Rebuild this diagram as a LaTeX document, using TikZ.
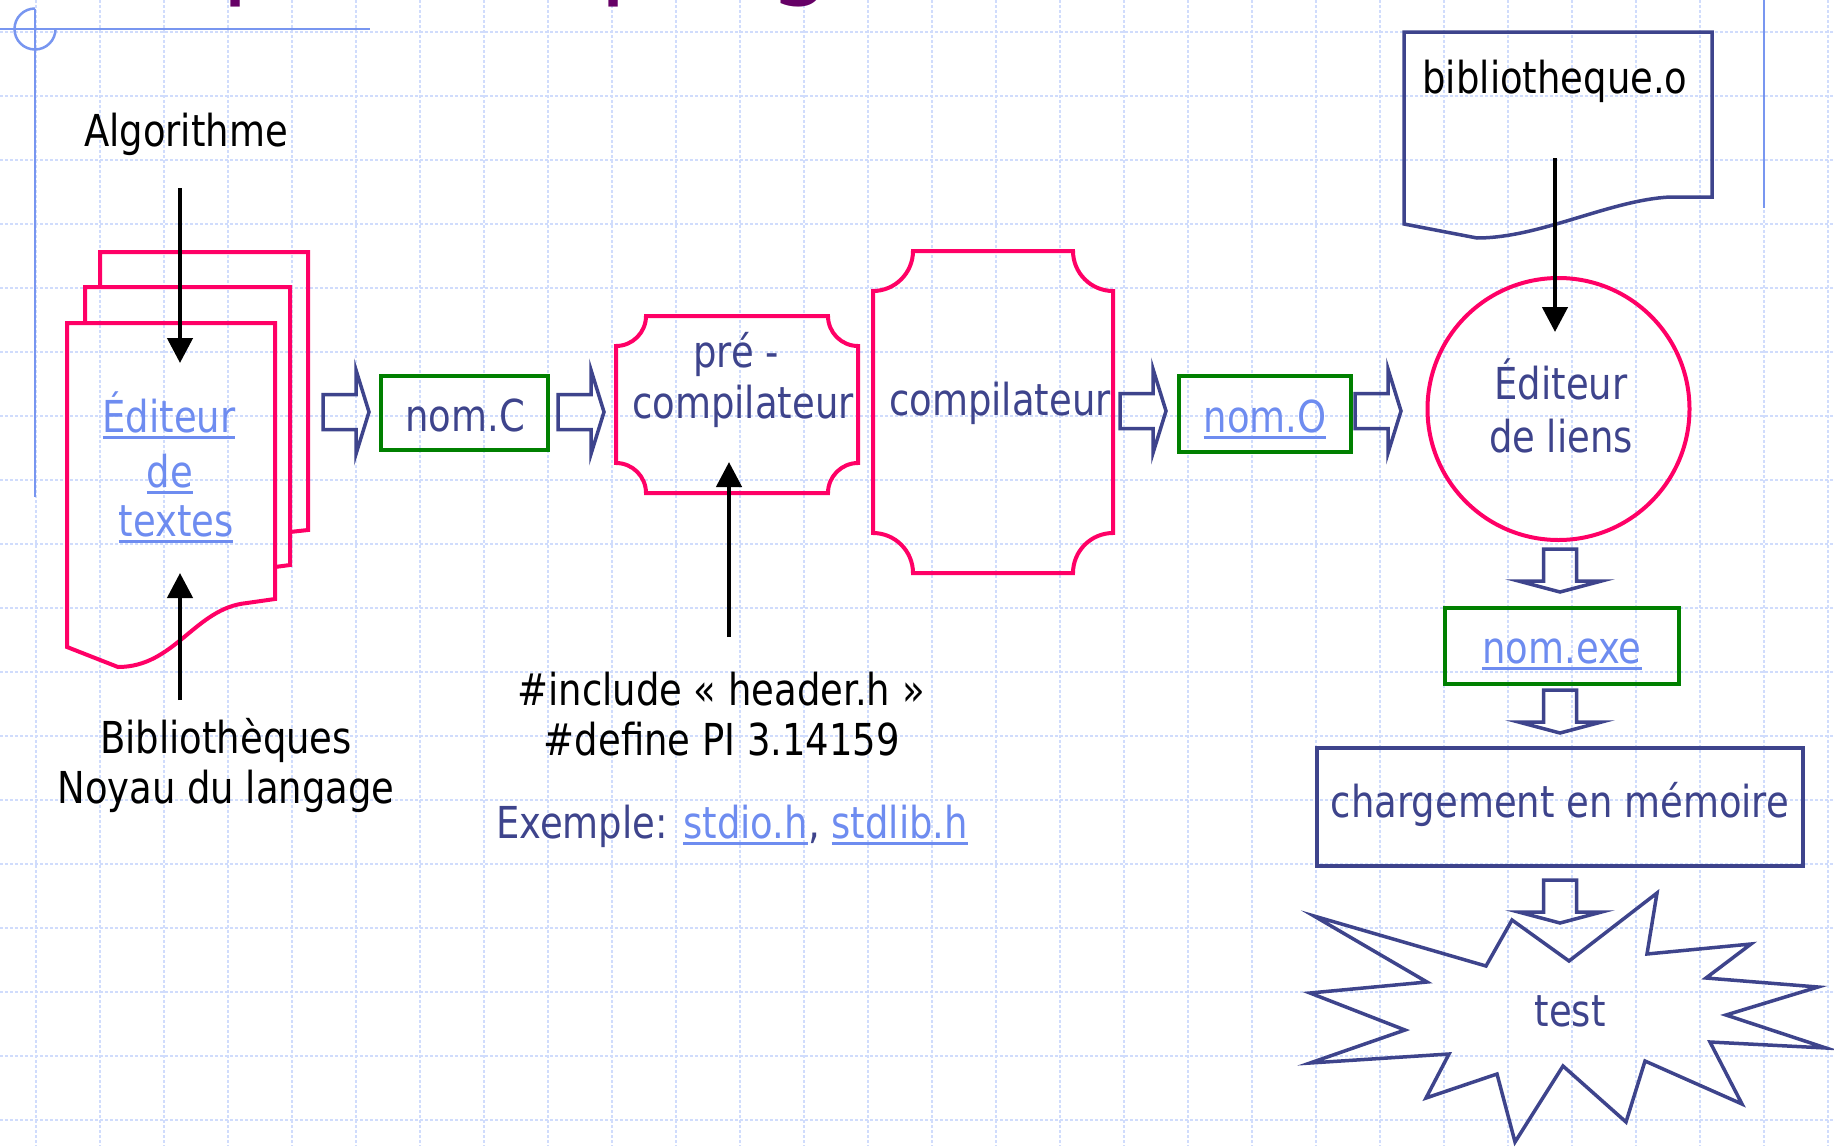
\documentclass[tikz,border=0pt]{standalone}
\usepackage{fontspec}
\setmainfont{DejaVu Sans}[FakeStretch=0.84]
\usetikzlibrary{arrows.meta}
\definecolor{pinkc}{RGB}{255,0,102}
\definecolor{navyc}{RGB}{62,68,140}
\definecolor{greenc}{RGB}{0,128,0}
\definecolor{linkc}{RGB}{110,140,240}
\definecolor{gridc}{RGB}{208,220,252}
\definecolor{decoc}{RGB}{120,150,240}
\definecolor{titlec}{RGB}{102,0,102}
\newcommand\lnk[1]{\leavevmode\setbox0=\hbox{#1}\rlap{\vrule width\wd0 height -4pt depth 7pt}\box0}
\begin{document}
\begin{tikzpicture}[x=1pt,y=-1pt,
  gridline/.style={gridc, line width=2.2pt, dash pattern=on 2.5pt off 2.5pt},
  deco/.style={decoc, line width=2.5pt},
  pinkshape/.style={pinkc, line width=4pt, line join=miter},
  navyshape/.style={navyc, line width=3.5pt},
  greenbox/.style={draw=greenc, line width=3.5pt, inner sep=0pt},
  navybox/.style={draw=navyc, line width=3.5pt, inner sep=0pt},
  blockarrow/.style={navyc, line width=3.5pt, line join=miter},
  blackarrow/.style={black, line width=4.5pt, -{Triangle[length=25pt,width=25pt]}},
  txt/.style={inner sep=0pt, anchor=base, font=\fontsize{44pt}{51pt}\selectfont},
  navytxt/.style={txt, text=navyc},
  blacktxt/.style={txt, text=black},
  linktxt/.style={txt, text=linkc},
  harrow/.pic={\draw[blockarrow] (0,-17.5) -- (33,-17.5) -- (33,-42) -- (46,0) -- (33,42) -- (33,17.5) -- (0,17.5) -- cycle;},
  varrow/.pic={\draw[blockarrow] (-16.5,0) -- (16.5,0) -- (16.5,32) -- (41.5,32) -- (0,43) -- (-41.5,32) -- (-16.5,32) -- cycle;}
]
\useasboundingbox (0,0) rectangle (1834,1146);
\fill[white] (0,0) rectangle (1834,1146);
% grid
\foreach \k in {0,...,28} \draw[gridline] (36+64*\k,0) -- (36+64*\k,1146);
\foreach \k in {0,...,17} \draw[gridline] (0,32+64*\k) -- (1834,32+64*\k);
% slide decoration
\draw[deco] (0,29) -- (370,29);
\draw[deco] (35,8.5) -- (35,497);
\draw[deco] (35,8.5) arc[start angle=90, end angle=360, radius=20.5pt];
\draw[deco] (1764,0) -- (1764,208);
% title (cut off at the top, as in the reference)
\begin{scope}
\clip (0,0) rectangle (1834,1146);
\node[inner sep=0pt, anchor=base west, text=titlec, font=\fontsize{123pt}{130pt}\selectfont] (title) at (52,-18.6) {Étapes de programmation};
\end{scope}
% multi-document
\draw[pinkshape] (100,287) -- (100,252) -- (308,252) -- (308,530) -- (290,532);
\draw[pinkshape] (85,323) -- (85,287) -- (290,287) -- (290,565) -- (275,567);
\draw[pinkshape] (67,323) -- (275,323) -- (275,599) -- (247,603) .. controls (195,608) and (175,667) .. (118,667) -- (67,647) -- cycle;
% boxes
\node[greenbox, minimum width=167pt, minimum height=74pt] (nomC) at (464.5,413) {};
\node[greenbox, minimum width=172pt, minimum height=76pt] (nomO) at (1265,414) {};
\node[greenbox, minimum width=234pt, minimum height=76pt] (exe) at (1562,646) {};
\node[navybox, minimum width=486pt, minimum height=118pt] (charg) at (1560,807) {};
\node[circle, draw=pinkc, line width=4pt, inner sep=0pt, minimum size=262pt] (link) at (1558.5,409) {};
% plaques
\draw[pinkshape] (646,316) -- (828,316) .. controls (828,332.5) and (841.5,346) .. (858,346) -- (858,463) .. controls (841.5,463) and (828,476.5) .. (828,493) -- (646,493) .. controls (646,476.5) and (632.5,463) .. (616,463) -- (616,346) .. controls (632.5,346) and (646,332.5) .. (646,316) -- cycle;
\draw[pinkshape] (913,251) -- (1073,251) .. controls (1073,273) and (1091,291) .. (1113,291) -- (1113,533) .. controls (1091,533) and (1073,551) .. (1073,573) -- (913,573) .. controls (913,551) and (895,533) .. (873,533) -- (873,291) .. controls (895,291) and (913,273) .. (913,251) -- cycle;
% bibliotheque.o document
\draw[navyshape] (1404,32) -- (1712,32) -- (1712,197) -- (1670,197) .. controls (1610,200) and (1540,238) .. (1477,238) -- (1404,224) -- cycle;
% star
\draw[navyshape, line join=miter] (1314,916) -- (1486,966) -- (1512,920) -- (1569,961) -- (1657,893) -- (1647,954) -- (1751,944) -- (1706,978) -- (1818,987) -- (1726,1015) -- (1826,1048) -- (1710,1042) -- (1742,1104) -- (1645,1061) -- (1626,1122) -- (1563,1066) -- (1515,1142) -- (1497,1074) -- (1426,1098) -- (1449,1054) -- (1310,1063) -- (1405,1030) -- (1310,993) -- (1427,982) -- cycle;
% block arrows
\pic at (323,412) {harrow};
\pic at (558,412) {harrow};
\pic at (1120,411) {harrow};
\pic at (1355,411) {harrow};
\pic at (1560,549) {varrow};
\pic at (1560,690) {varrow};
\pic at (1560,880) {varrow};
% texts
\node[blacktxt] (alg) at (186,146) {Algorithme};
\node[linktxt] (ed1) at (169,432) {\lnk{Éditeur}};
\node[linktxt] (ed2) at (170,487) {\lnk{de}};
\node[linktxt] (ed3) at (176,536) {\lnk{textes}};
\node[blacktxt] (bib1) at (226,753) {Bibliothèques};
\node[blacktxt] (bib2) at (226,803) {Noyau du langage};
\node[navytxt] (nomCt) at (465,431) {nom.C};
\node[navytxt] (pre1) at (736,367) {pré -};
\node[navytxt] (pre2) at (743,418) {compilateur};
\node[navytxt] (compt) at (1000,415) {compilateur};
\node[linktxt] (nomOt) at (1265,432) {\lnk{nom.O}};
\node[blacktxt] (bot) at (1555,93) {bibliotheque.o};
\node[navytxt] (lk1) at (1561,399) {Éditeur};
\node[navytxt] (lk2) at (1561,452) {de liens};
\node[linktxt] (exet) at (1562,663) {\lnk{nom.exe}};
\node[navytxt] (chgt) at (1560,817) {chargement en mémoire};
\node[navytxt] (testt) at (1570,1026) {test};
\node[blacktxt] (inc1) at (721,705) {\#include « header.h »};
\node[blacktxt] (inc2) at (722,755) {\#define PI 3.14159};
\node[navytxt] (ex) at (732,838) {Exemple: {\color{linkc}\lnk{stdio.h}}, {\color{linkc}\lnk{stdlib.h}}};
% black arrows
\coordinate (algA) at (180,188); \coordinate (algB) at (180,363);
\coordinate (bibA) at (180,700); \coordinate (bibB) at (180,573);
\coordinate (incA) at (729,637); \coordinate (incB) at (729,462);
\coordinate (boA) at (1555,158); \coordinate (boB) at (1555,332);
\draw[blackarrow] (algA) -- (algB);
\draw[blackarrow] (bibA) -- (bibB);
\draw[blackarrow] (incA) -- (incB);
\draw[blackarrow] (boA) -- (boB);
\end{tikzpicture}
\end{document}
